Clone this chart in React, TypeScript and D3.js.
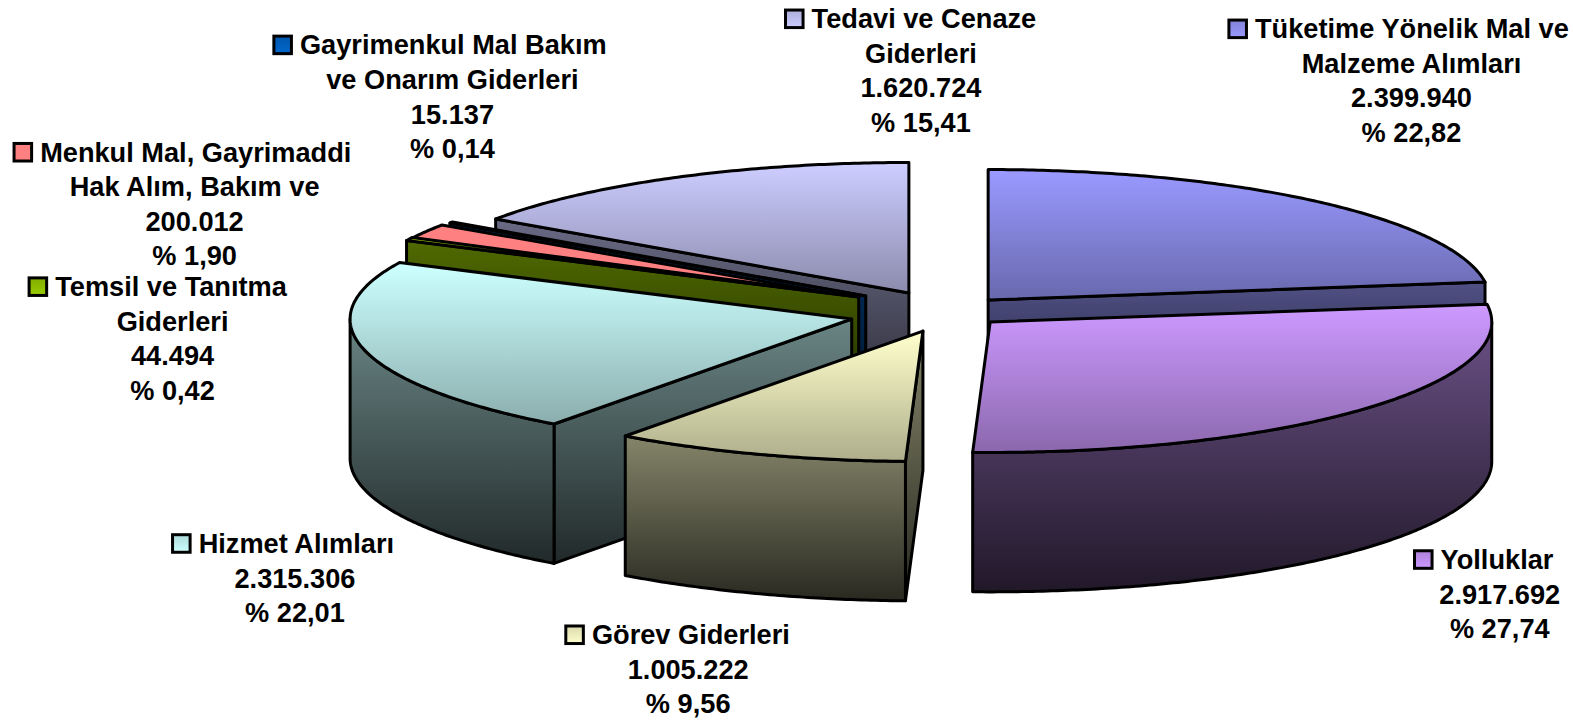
import React from "react";
import * as d3 from "d3";

const categoryLines = [
  ["Tüketime Yönelik Mal ve", "Malzeme Alımları"],
  ["Yolluklar"],
  ["Görev Giderleri"],
  ["Hizmet Alımları"],
  ["Temsil ve Tanıtma", "Giderleri"],
  ["Menkul Mal, Gayrimaddi", "Hak Alım, Bakım ve"],
  ["Gayrimenkul Mal Bakım", "ve Onarım Giderleri"],
  ["Tedavi ve Cenaze", "Giderleri"],
];
const amounts = [2399940, 2917692, 1005222, 2315306, 44494, 200012, 15137, 1620724];
const percents = [22.82, 27.74, 9.56, 22.01, 0.42, 1.9, 0.14, 15.41];
const colors = ["#9999FF", "#CC99FF", "#FFFFCC", "#CCFFFF", "#99CC00", "#FF8080", "#0066CC", "#CCCCFF"];
const topEndShade = [0.68, 0.68, 0.68, 0.68, 0.68, 1, 0.68, 0.68];

// layout, measured in reference pixels
const k = 1573 / 1568;
const RX = 500, RY = 130, DEPTH = 139;
const apexX = [985, 987, 920, 849, 856, 855, 863, 906];
const apexY = [299, 321, 330, 318, 296, 297, 295, 292];
const drawOrder = [7, 6, 5, 4, 3, 2, 0, 1];
const keyX = [1225, 1410, 564, 172, 29, 14, 273, 783];
const keyY = [20, 549, 624, 533, 277, 143, 36, 10];
const restCx = [1407, 1495, 686, 294, 172, 194, 451, 918];
const lineGap = 34.4;

const trFormat = d3.formatLocale({ decimal: ",", thousands: ".", grouping: [3], currency: ["", ""] });
const fmtAmount = trFormat.format(",d");
const fmtPct = trFormat.format(".2f");

const rx = d3.scaleLinear().domain([0, 1]).range([0, RX * k]);
const ry = d3.scaleLinear().domain([0, 1]).range([0, RY * k]);
const line = d3.line<[number, number]>().x((d) => d[0]).y((d) => d[1]);
const pie = d3.pie<number>().sort(null).startAngle(0).endAngle(2 * Math.PI);
const slices = pie(amounts);

function rim(i: number, a: number, dz = 0): [number, number] {
  return [apexX[i] * k + rx(Math.sin(a)), apexY[i] * k - ry(Math.cos(a)) + dz];
}
function arcPts(i: number, a0: number, a1: number, dz = 0): [number, number][] {
  const n = Math.max(2, Math.ceil((a1 - a0) / 0.01));
  return d3.range(n + 1).map((j) => rim(i, a0 + ((a1 - a0) * j) / n, dz));
}
function shade(c: string, f: number) {
  const r = d3.rgb(c);
  return d3.rgb(r.r * f, r.g * f, r.b * f).formatHex();
}

export default function App() {
  const dz = DEPTH * k;
  const defs: React.ReactNode[] = [];
  const marks: React.ReactNode[] = [];

  drawOrder.forEach((i) => {
    const { startAngle: a0, endAngle: a1 } = slices[i];
    const c = colors[i];
    const ax = apexX[i] * k, ay = apexY[i] * k;
    const topPts: [number, number][] = [[ax, ay], ...arcPts(i, a0, a1)];

    defs.push(
      <linearGradient key={"t" + i} id={"top" + i} x1="0" x2="0" y1="0" y2="1">
        <stop offset="0.02" stopColor={c} />
        <stop offset="1" stopColor={shade(c, topEndShade[i])} />
      </linearGradient>,
      <linearGradient key={"w" + i} id={"wall" + i} x1="0" x2="0" y1="0" y2="1">
        <stop offset="0" stopColor={shade(c, 0.52)} />
        <stop offset="1" stopColor={shade(c, 0.16)} />
      </linearGradient>
    );

    const stroke = { stroke: "#000", strokeWidth: 3, strokeLinejoin: "round" as const };
    const radial = (a: number, key: string) => {
      const p = rim(i, a);
      const quad: [number, number][] = [[ax, ay], p, [p[0], p[1] + dz], [ax, ay + dz]];
      return <path key={key} d={line(quad)! + "Z"} fill={`url(#wall${i})`} {...stroke} />;
    };
    if (Math.sin(a0) < -1e-6) marks.push(radial(a0, `rs${i}`));
    if (Math.sin(a1) > 1e-6) marks.push(radial(a1, `re${i}`));

    const w0 = Math.max(a0, Math.PI / 2), w1 = Math.min(a1, (3 * Math.PI) / 2);
    if (w1 > w0) {
      const outer = [...arcPts(i, w0, w1), ...arcPts(i, w0, w1, dz).reverse()];
      marks.push(<path key={`o${i}`} d={line(outer)! + "Z"} fill={`url(#wall${i})`} {...stroke} />);
    }
    marks.push(<path key={`f${i}`} d={line(topPts)! + "Z"} fill={`url(#top${i})`} {...stroke} />);
  });

  const labels = categoryLines.map((lines, i) => {
    const all = [...lines.slice(1), fmtAmount(amounts[i]), "% " + fmtPct(percents[i])];
    const kx = keyX[i] * k, ky = keyY[i] * k;
    const size = 17.5 * k;
    const base = ky + size / 2 + 9.6;
    return (
      <g key={i}>
        <rect x={kx} y={ky} width={size} height={size} fill={`url(#key${i})`} stroke="#000" strokeWidth={3} />
        <text x={kx + 26 * k} y={base}>{lines[0]}</text>
        {all.map((t, j) => (
          <text key={j} x={restCx[i] * k} y={base + (j + 1) * lineGap * k} textAnchor="middle">{t}</text>
        ))}
      </g>
    );
  });

  colors.forEach((c, i) => {
    defs.push(
      <linearGradient key={"k" + i} id={"key" + i} x1="0" x2="0" y1="0" y2="1">
        <stop offset="0" stopColor={shade(c, i === 5 ? 1 : 0.85)} />
        <stop offset="1" stopColor={c} />
      </linearGradient>
    );
  });

  return (
    <svg
      width={1573}
      height={721}
      style={{ position: "absolute", left: 0, top: 0, display: "block", background: "#fff" }}
      fontFamily="'Liberation Sans', Arial, sans-serif"
      fontWeight="bold"
      fontSize={27.2}
      fill="#000"
    >
      <defs>{defs}</defs>
      {marks}
      {labels}
    </svg>
  );
}
